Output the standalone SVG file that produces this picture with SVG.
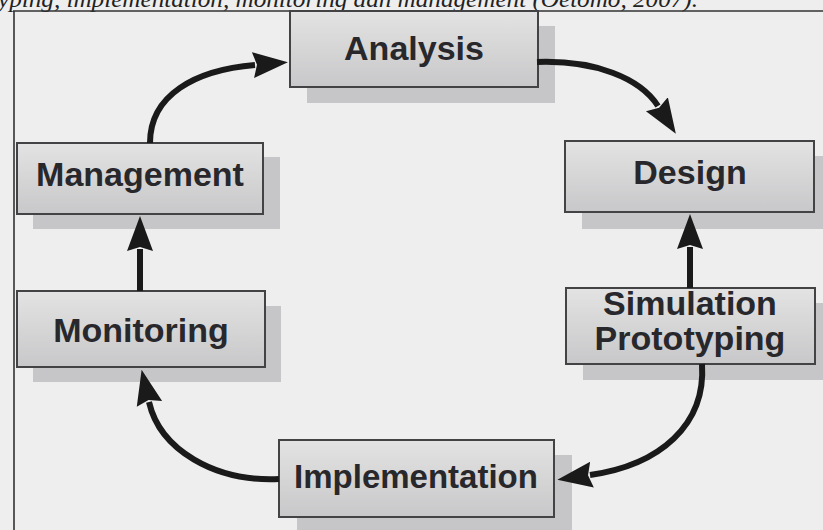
<svg xmlns="http://www.w3.org/2000/svg" width="823" height="530" viewBox="0 0 823 530">
  <defs>
    <linearGradient id="boxfill" x1="0" y1="0" x2="0" y2="1">
      <stop offset="0" stop-color="#e3e3e3"/>
      <stop offset="1" stop-color="#c8c8ca"/>
    </linearGradient>
    <marker id="head" markerUnits="userSpaceOnUse" markerWidth="42" markerHeight="32" viewBox="0 -15 42 30" refX="2" refY="0" orient="auto">
      <path d="M0,-13 L35,0 L0,13 L4,0 Z" fill="#1a1a1a"/>
    </marker>
    <style>
      .shadow { fill: #c6c6c8; }
      .box { fill: url(#boxfill); stroke: #434345; stroke-width: 2; }
      .label { font-family: "Liberation Sans", Arial, sans-serif; font-weight: bold; font-size: 34px; fill: #28282c; text-anchor: middle; }
      .conn { fill: none; stroke: #1a1a1a; stroke-width: 6; marker-end: url(#head); }
      .frame { stroke: #333; stroke-width: 1.6; fill: none; }
      .caption { font-family: "Liberation Serif", "Times New Roman", serif; font-style: italic; font-size: 24px; fill: #222; }
    </style>
  </defs>

  <rect x="0" y="0" width="823" height="530" fill="#eeeeee"/>

  <text class="caption" x="-2" y="7" textLength="700" lengthAdjust="spacingAndGlyphs">yping, implementation, monitoring dan management (Oetomo, 2007).</text>
  <path class="frame" d="M13,11 H823 M14,11 V530"/>

  <g id="analysis">
    <rect class="shadow" x="307" y="26" width="248" height="77"/>
    <rect class="box" x="290" y="11" width="248" height="76"/>
    <text class="label" x="414" y="60">Analysis</text>
  </g>

  <g id="management">
    <rect class="shadow" x="33" y="157" width="247" height="72"/>
    <rect class="box" x="17" y="143" width="246" height="71"/>
    <text class="label" x="140" y="186">Management</text>
  </g>

  <g id="design">
    <rect class="shadow" x="582" y="156" width="249" height="73"/>
    <rect class="box" x="565" y="141" width="249" height="71"/>
    <text class="label" x="690" y="184">Design</text>
  </g>

  <g id="simulation-prototyping">
    <rect class="shadow" x="583" y="303" width="249" height="77"/>
    <rect class="box" x="566" y="288" width="249" height="76"/>
    <text class="label" x="690" y="315">Simulation</text>
    <text class="label" x="690" y="350">Prototyping</text>
  </g>

  <g id="monitoring">
    <rect class="shadow" x="33" y="306" width="248" height="76"/>
    <rect class="box" x="17" y="291" width="248" height="76"/>
    <text class="label" x="141" y="342">Monitoring</text>
  </g>

  <g id="implementation">
    <rect class="shadow" x="297" y="455" width="275" height="80"/>
    <rect class="box" x="279" y="440" width="275" height="77"/>
    <text class="label" x="416" y="488" style="font-size:33px">Implementation</text>
  </g>

  <g id="connectors">
    <path class="conn" d="M150,143 C150,95 195,70 255,65"/>
    <path class="conn" d="M537,62 C595,60 640,78 658,106"/>
    <path class="conn" d="M690,288 L690,247"/>
    <path class="conn" d="M702,364 C706,425 660,465 590,475"/>
    <path class="conn" d="M279,479 C215,482 160,450 149,402"/>
    <path class="conn" d="M140,291 L140,249"/>
  </g>
</svg>
